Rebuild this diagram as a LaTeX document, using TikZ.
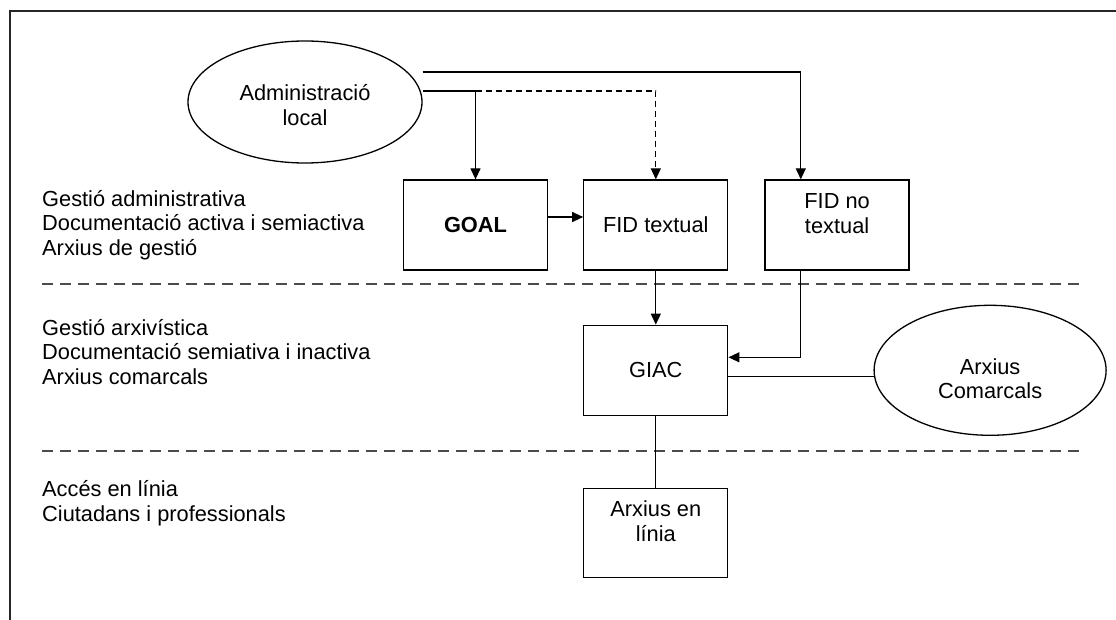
\documentclass[tikz,border=0pt]{standalone}
\usepackage{fontspec}
\setmainfont{Liberation Sans}
\usetikzlibrary{arrows.meta, positioning, calc, shapes.geometric}

\begin{document}
\begin{tikzpicture}[
  x=1pt, y=-1pt,
  font=\fontsize{21.8}{24.5}\selectfont,
  block/.style = {
    draw,
    line width=1.3pt,
    minimum height=90pt,
    minimum width=144pt,
    inner sep=0pt,
    align=center
  },
  oval/.style = {
    draw,
    ellipse,
    line width=1.3pt,
    inner sep=0pt,
    align=center
  },
  tier/.style = {
    align=left,
    anchor=west,
    inner sep=0pt
  },
  arrow/.style = {line width=1.3pt, -{Triangle[length=11pt,width=10pt]}},
  link/.style = {line width=1.3pt},
  divider/.style = {line width=2.5pt, black!70, dash pattern=on 11pt off 7pt},
  pageframe/.style = {line width=2pt, black!85}
]

\useasboundingbox (0,0) rectangle (1116,620);
\draw[pageframe] (10,620) -- (10,11) -- (1116,11);

% ======================================================
% LAYERS
% ======================================================

\node[tier] (admlayer) at (42,225) {
  Gestió administrativa\\
  Documentació activa i semiactiva\\
  Arxius de gestió
};
\node[tier] (arxlayer) at (42,352) {
  Gestió arxivística\\
  Documentació semiativa i inactiva\\
  Arxius comarcals
};
\node[tier] (weblayer) at (42,503) {
  Accés en línia\\
  Ciutadans i professionals
};

\draw[divider] (42,284) -- (1086,284);
\draw[divider] (42,451) -- (1086,451);

% ======================================================
% SYSTEMS
% ======================================================

\node[oval, minimum width=234pt, minimum height=122pt, text height=47pt, text depth=0pt]
  (admin) at (305,102) {Administració\\local};

\node[block] (goal) at (475.5,225) {\textbf{GOAL}};
\node[block, right=35pt of goal] (fidtext) {FID textual};
\node[block, right=36pt of fidtext, text height=17pt, text depth=0pt] (fidno) {FID no\\textual};

\node[block, below=54pt of fidtext] (giac) {GIAC};
\node[block, below=72pt of giac, minimum height=89pt, text height=16pt, text depth=0pt]
  (online) {Arxius en\\línia};

\node[oval, minimum width=232pt, minimum height=130pt, text height=57pt, text depth=0pt,
      right=145pt of giac] (comarc) {Arxius\\Comarcals};

% ---- Arrows ----
\coordinate (toprail) at ($(admin.east)+(0,-30)$);
\coordinate (lowrail) at ($(admin.east)+(0,-11)$);
\coordinate (fidtap) at ($(fidno.north west)!0.25!(fidno.north east)$);

\draw[arrow] (lowrail) -| (goal.north);
\draw[arrow, dash pattern=on 6pt off 4pt] (lowrail -| goal.north) -| (fidtext.north);
\draw[arrow] (toprail) -| (fidtap);

\draw[arrow] ($(goal.east)+(0,-8)$) -- ($(fidtext.west)+(0,-8)$);
\draw[arrow] (fidtext.south) -- (giac.north);
\draw[arrow] (fidtap |- fidno.south) |- ($(giac.east)+(0,-13)$);

% giac links
\draw[link] (comarc.183) -- (comarc.183 -| giac.east);
\draw[link] (giac.south) -- (online.north);

\end{tikzpicture}
\end{document}
